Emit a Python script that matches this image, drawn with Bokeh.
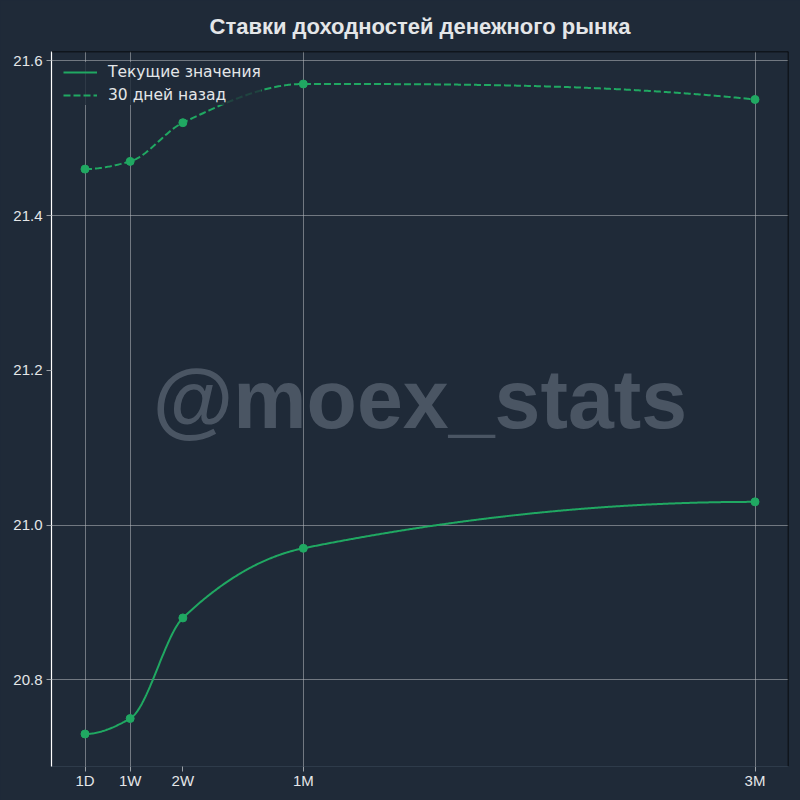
import numpy as np
from bokeh.plotting import figure
from bokeh.models import (FixedTicker, PrintfTickFormatter, Legend, LegendItem,
                          Label, Span, Range1d, ColumnDataSource)
from bokeh.embed import file_html
from bokeh.resources import INLINE

# ---- data ----
tenor_days = [1, 7, 14, 30, 90]
tenor_labels = ["1D", "1W", "2W", "1M", "3M"]
current_rates = [20.73, 20.75, 20.88, 20.97, 21.03]
rates_30d_ago = [21.46, 21.47, 21.52, 21.57, 21.55]
y_ticks = [20.8, 21.0, 21.2, 21.4, 21.6]
x_grid_days = [1, 7, 30, 90]
y_grid_vals = [20.8, 21.0, 21.4, 21.6]

TITLE = "Ставки доходностей денежного рынка"
WATERMARK = "@moex_stats"

BG = "#1f2a38"
GREEN = "#20a862"
TEXT = "#e4e6e8"


def pchip(x, y, xs):
    x = np.asarray(x, float); y = np.asarray(y, float)
    h = np.diff(x); d = np.diff(y) / h
    n = len(x); m = np.zeros(n)
    for k in range(1, n - 1):
        if d[k - 1] * d[k] > 0:
            w1 = 2 * h[k] + h[k - 1]; w2 = h[k] + 2 * h[k - 1]
            m[k] = (w1 + w2) / (w1 / d[k - 1] + w2 / d[k])
    def edge(h0, h1, d0, d1):
        v = ((2 * h0 + h1) * d0 - h0 * d1) / (h0 + h1)
        if np.sign(v) != np.sign(d0):
            return 0.0
        if np.sign(d0) != np.sign(d1) and abs(v) > 3 * abs(d0):
            return 3 * d0
        return v
    m[0] = edge(h[0], h[1], d[0], d[1])
    m[-1] = edge(h[-1], h[-2], d[-1], d[-2])
    out = np.empty_like(xs)
    for i, xv in enumerate(xs):
        k = min(np.searchsorted(x, xv, side="right") - 1, n - 2)
        k = max(k, 0)
        t = (xv - x[k]) / h[k]
        h00 = 2 * t**3 - 3 * t**2 + 1; h10 = t**3 - 2 * t**2 + t
        h01 = -2 * t**3 + 3 * t**2; h11 = t**3 - t**2
        out[i] = h00 * y[k] + h10 * h[k] * m[k] + h01 * y[k + 1] + h11 * h[k] * m[k + 1]
    return out


xs = np.linspace(tenor_days[0], tenor_days[-1], 600)
cur_s = pchip(tenor_days, current_rates, xs)
old_s = pchip(tenor_days, rates_30d_ago, xs)

xpad = 0.05 * (max(tenor_days) - min(tenor_days))
all_y = current_rates + rates_30d_ago
ypad = 0.05 * (max(all_y) - min(all_y))
x0, x1 = min(tenor_days) - xpad, max(tenor_days) + xpad
y0, y1 = min(all_y) - ypad, max(all_y) + ypad

p = figure(width=800, height=800, x_range=Range1d(x0, x1), y_range=Range1d(y0, y1),
           output_backend="svg", toolbar_location=None, title=TITLE,
           background_fill_color=BG, border_fill_color=BG,
           min_border_left=51, min_border_right=12, min_border_top=51, min_border_bottom=34)
p.outline_line_color = None

p.title.text_font = "Liberation Sans"
p.title.text_font_style = "bold"
p.title.text_font_size = "22px"
p.title.text_color = TEXT
p.title.align = "center"
p.title.vertical_align = "top"
p.title.standoff = 21

# watermark
p.add_layout(Label(x=(x0 + x1) / 2, y=y0 + 0.514 * (y1 - y0), text=WATERMARK,
                   text_align="center", text_baseline="middle",
                   text_font="Liberation Sans", text_font_style="bold",
                   text_font_size="82.5px", text_color="#4a5563", level="image"))

# grids
p.xgrid.ticker = FixedTicker(ticks=x_grid_days)
p.ygrid.ticker = FixedTicker(ticks=y_grid_vals)
for g in (p.xgrid, p.ygrid):
    g.grid_line_color = "#b4b8bd"
    g.grid_line_alpha = 0.55
    g.grid_line_width = 1

# axes
p.xaxis.ticker = FixedTicker(ticks=tenor_days)
p.xaxis.major_label_overrides = {d: l for d, l in zip(tenor_days, tenor_labels)}
p.yaxis.ticker = FixedTicker(ticks=y_ticks)
p.yaxis.formatter = PrintfTickFormatter(format="%.1f")
for ax in (p.xaxis, p.yaxis):
    ax.major_label_text_font = "Liberation Sans"
    ax.major_label_text_font_size = "15px"
    ax.major_label_text_color = TEXT
    ax.major_tick_in = 0
    ax.major_tick_out = 5
    ax.minor_tick_line_color = None
    ax.major_tick_line_color = "#9aa0a6"
p.xaxis.major_label_standoff = 0
p.yaxis.major_label_standoff = 4
p.yaxis.axis_line_color = "white"
p.yaxis.axis_line_width = 1.2
p.xaxis.axis_line_color = "#2e3b4a"
p.xaxis.axis_line_width = 1.2

# top / right spines
p.add_layout(Span(location=y1, dimension="width", line_color="black", line_width=1.5))
p.add_layout(Span(location=x1, dimension="height", line_color="black", line_width=1.5))

cur_src = ColumnDataSource(dict(x=xs, y=cur_s))
old_src = ColumnDataSource(dict(x=xs, y=old_s))
r_cur = p.line("x", "y", source=cur_src, line_color=GREEN, line_width=2)
r_old = p.line("x", "y", source=old_src, line_color=GREEN, line_width=2, line_dash="7 3")
p.scatter(tenor_days, current_rates, size=8, color=GREEN)
p.scatter(tenor_days, rates_30d_ago, size=8, color=GREEN)

legend = Legend(items=[LegendItem(label="Текущие значения", renderers=[r_cur]),
                       LegendItem(label="30 дней назад", renderers=[r_old])],
                location=(12, 661))
legend.label_text_font = "DejaVu Sans"
legend.label_text_font_size = "15.5px"
legend.label_text_color = TEXT
legend.background_fill_color = BG
legend.background_fill_alpha = 0.8
legend.border_line_color = None
legend.margin = 0
legend.padding = 6
legend.spacing = 3
legend.glyph_width = 34
legend.glyph_height = 20
legend.label_height = 20
legend.label_standoff = 11
p.add_layout(legend)

html = file_html(p, INLINE)
html = html.replace("</head>", "<style>html,body{background:%s;}</style></head>" % BG, 1)
open("out.html", "w").write(html)
